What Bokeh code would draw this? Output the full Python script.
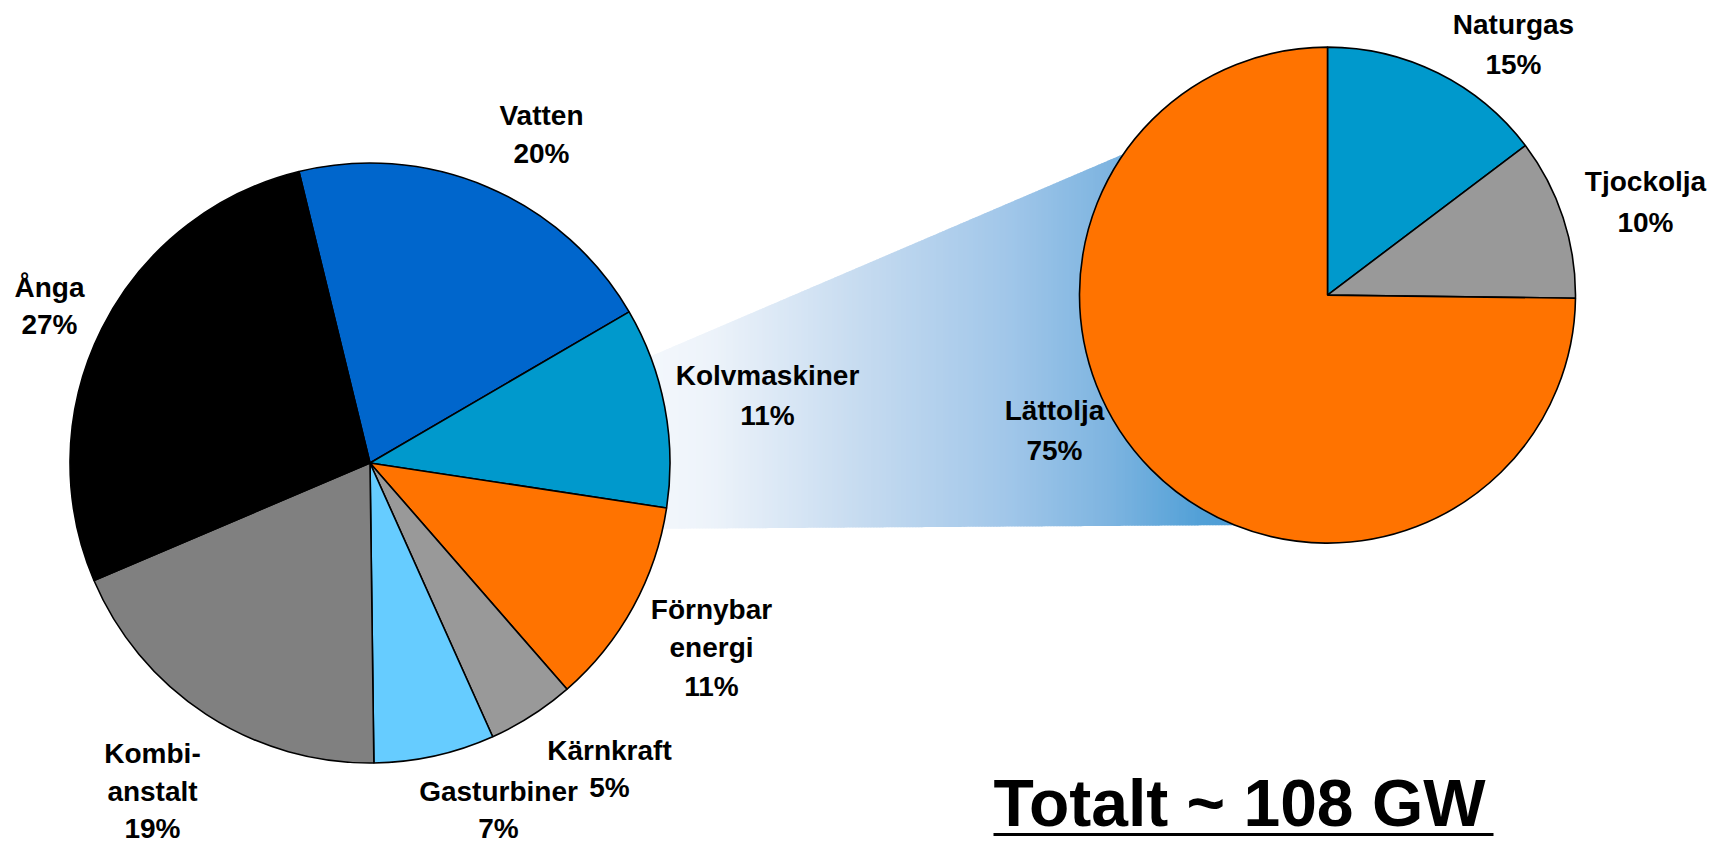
import numpy as np
from bokeh.plotting import figure
from bokeh.models import Range1d, ColumnDataSource
from bokeh.core.properties import value
from bokeh.embed import file_html
from bokeh.resources import INLINE

# ---------------- data ----------------
main_names = ["Vatten", "Kolvmaskiner", "Förnybar\nenergi", "Kärnkraft",
              "Gasturbiner", "Kombi-\nanstalt", "Ånga"]
main_values = [20.4, 10.8, 11.2, 4.7, 6.5, 18.8, 27.6]
main_pct = ["20%", "11%", "11%", "5%", "7%", "19%", "27%"]
main_colors = ["#0066CC", "#0099CC", "#FF7300", "#999999",
               "#66CCFF", "#808080", "#000000"]

oil_names = ["Naturgas", "Tjockolja", "Lättolja"]
oil_values = [14.7, 10.5, 74.8]
oil_pct = ["15%", "10%", "75%"]
oil_colors = ["#0099CC", "#999999", "#FF7300"]

total_text = "Totalt ~ 108 GW"

# ---------------- layout helpers (screen px -> data) ----------------
W, H = 1730, 844
def Y(s):
    return H - s

p = figure(width=W, height=H, output_backend="svg", toolbar_location=None,
           x_range=Range1d(0, W), y_range=Range1d(0, H), min_border=0)
p.axis.visible = False
p.grid.visible = False
p.outline_line_color = None
p.background_fill_color = "white"
p.border_fill_color = "white"

# ---------------- connector with horizontal gradient ----------------
def top_edge(x):
    x0, y0, x1, y1 = 653, 354.5, 1123, 153.5
    return y0 + (y1 - y0) * (x - x0) / (x1 - x0)

def bot_edge(x):
    x0, y0, x1, y1 = 660, 528.3, 1180, 525.0
    return y0 + (y1 - y0) * (x - x0) / (x1 - x0)

stops_x = [630, 710, 860, 1010, 1110, 1200, 1300]
stops_c = [(246, 249, 253), (237, 243, 250), (198, 219, 240), (160, 198, 233),
           (125, 180, 224), (82, 160, 215), (70, 150, 210)]
sx = np.array(stops_x, float)
sc = np.array(stops_c, float)

xs, ys, cols = [], [], []
step = 3.0
xa = 630.0
while xa < 1300:
    xb = min(xa + step + 0.8, 1300)
    xm = xa + step / 2
    c = [int(round(np.interp(xm, sx, sc[:, k]))) for k in range(3)]
    xs.append([xa, xb, xb, xa])
    ys.append([Y(top_edge(xa)), Y(top_edge(xb)), Y(bot_edge(xb)), Y(bot_edge(xa))])
    cols.append("#%02x%02x%02x" % tuple(c))
    xa += step
p.patches(xs=xs, ys=ys, fill_color=cols, line_color=None)

# ---------------- pies ----------------
def pie(cx, cy, r, vals, colors, start_deg):
    v = np.array(vals, float)
    frac = v / v.sum()
    cum = np.concatenate([[0.0], np.cumsum(frac)])
    a0 = np.radians(start_deg)
    src = ColumnDataSource(dict(
        start=a0 - 2 * np.pi * cum[1:],
        end=a0 - 2 * np.pi * cum[:-1],
        color=colors,
    ))
    p.wedge(x=cx, y=cy, radius=r, start_angle="start", end_angle="end",
            direction="anticlock", fill_color="color", line_color="black",
            line_width=1.6, source=src)

pie(369.5, Y(462.5), 300, main_values, main_colors, 103.7)
pie(1327, Y(294.6), 248, oil_values, oil_colors, 90)

# ---------------- labels ----------------
# (center x, baseline of first line, line spacing) in screen px
main_pos = [(541, 124.5, 38), (767, 385, 40), (711, 618.5, 38.5), (609, 760, 37),
            (498, 801, 37), (152, 763, 37.5), (49, 297, 37)]
oil_pos = [(1513, 34, 40), (1645, 190.7, 41), (1054, 420, 40)]

SMALL_SHIFT = 10   # renderer places alphabetic baseline lower than requested
BIG_SHIFT = 19

lx, ly, lt = [], [], []
def add_label(name, pct, pos):
    cx, b, sp = pos
    lines = name.split("\n") + [pct]
    for i, t in enumerate(lines):
        lx.append(cx)
        ly.append(Y(b + i * sp - SMALL_SHIFT))
        lt.append(t)

for n, pc, pos in zip(main_names, main_pct, main_pos):
    add_label(n, pc, pos)
for n, pc, pos in zip(oil_names, oil_pct, oil_pos):
    add_label(n, pc, pos)

p.text(x=lx, y=ly, text=lt, text_font=value("Liberation Sans"),
       text_font_style="bold", text_font_size="28px", text_color="black",
       text_align="center", text_baseline="alphabetic")

# ---------------- total ----------------
p.text(x=[993], y=[Y(821 - BIG_SHIFT)], text=[total_text], text_font=value("Liberation Sans"),
       text_font_style="bold", text_font_size="66px", text_color="black",
       text_align="left", text_baseline="alphabetic")
p.line(x=[993, 1493], y=[Y(834), Y(834)], line_color="black", line_width=3)

open("out.html", "w").write(file_html(p, INLINE))
